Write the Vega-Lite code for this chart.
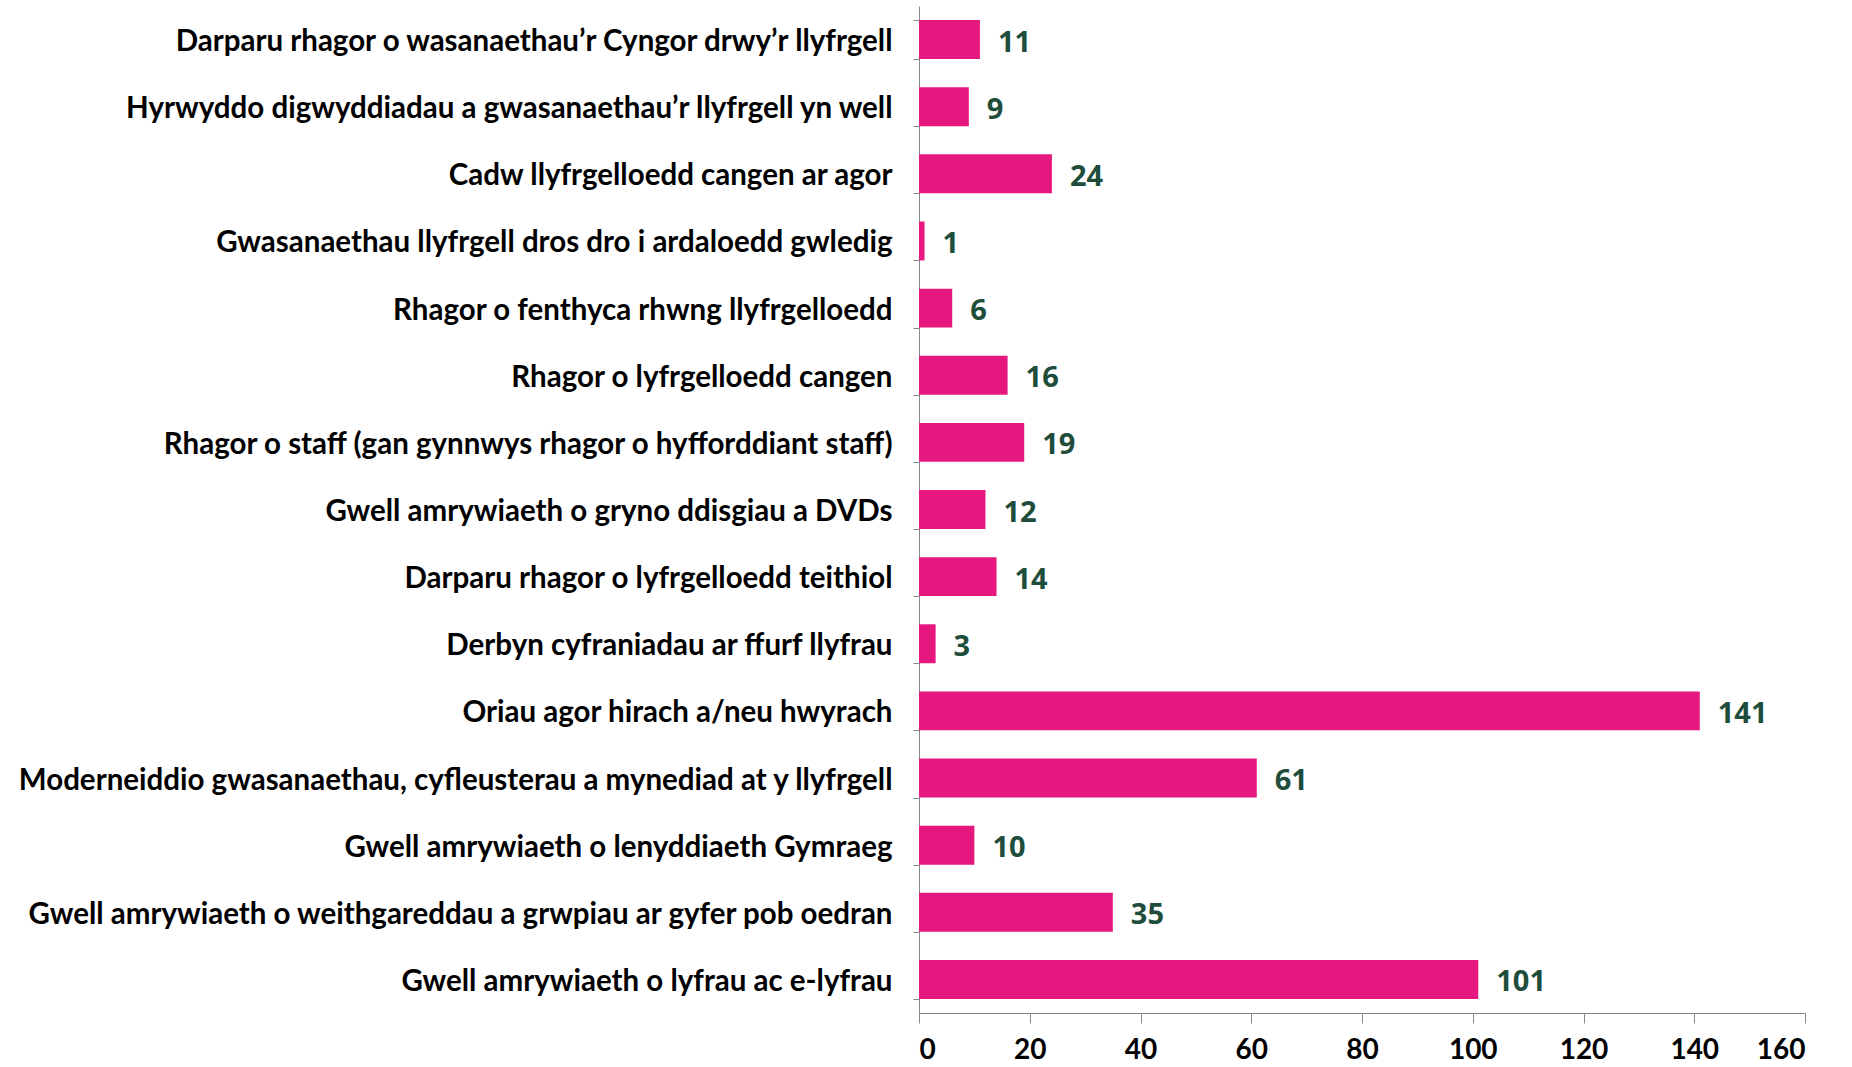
{
  "$schema": "https://vega.github.io/schema/vega-lite/v6.json",
  "autosize": {"type": "none"},
  "padding": {"left": 919, "top": 6, "right": 47, "bottom": 54},
  "width": 886,
  "height": 1007,
  "background": "white",
  "config": {"view": {"stroke": null}},
  "data": {"values": [
    {"label": "Darparu rhagor o wasanaethau’r Cyngor drwy’r llyfrgell", "value": 11},
    {"label": "Hyrwyddo digwyddiadau a gwasanaethau’r llyfrgell yn well\u00a0", "value": 9},
    {"label": "Cadw llyfrgelloedd cangen ar agor\u00a0", "value": 24},
    {"label": "Gwasanaethau llyfrgell dros dro i ardaloedd gwledig\u00a0", "value": 1},
    {"label": "Rhagor o fenthyca rhwng llyfrgelloedd\u00a0", "value": 6},
    {"label": "Rhagor o lyfrgelloedd cangen\u00a0", "value": 16},
    {"label": "Rhagor o staff (gan gynnwys rhagor o hyfforddiant staff)", "value": 19},
    {"label": "Gwell amrywiaeth o gryno ddisgiau a DVDs", "value": 12},
    {"label": "Darparu rhagor o lyfrgelloedd teithiol\u00a0", "value": 14},
    {"label": "Derbyn cyfraniadau ar ffurf llyfrau\u00a0", "value": 3},
    {"label": "Oriau agor hirach a/neu hwyrach\u00a0", "value": 141},
    {"label": "Moderneiddio gwasanaethau, cyfleusterau a mynediad at y llyfrgell", "value": 61},
    {"label": "Gwell amrywiaeth o lenyddiaeth Gymraeg\u00a0", "value": 10},
    {"label": "Gwell amrywiaeth o weithgareddau a grwpiau ar gyfer pob oedran\u00a0", "value": 35},
    {"label": "Gwell amrywiaeth o lyfrau ac e-lyfrau", "value": 101}
  ]},
  "encoding": {
    "y": {
      "field": "label", "type": "nominal", "sort": null, "title": null,
      "scale": {"paddingInner": 0.42, "paddingOuter": 0.21},
      "axis": {
        "tickBand": "extent", "tickSize": 6, "tickColor": "#888888", "domainColor": "#888888",
        "labelPadding": 21, "labelOffset": 2, "labelFont": "Lato", "labelFontWeight": "bold", "labelFontSize": 29.5,
        "labelColor": "#000000", "labelLimit": 1000
      }
    },
    "x": {
      "field": "value", "type": "quantitative", "title": null,
      "scale": {"domain": [0, 160], "nice": false},
      "axis": {
        "values": [0, 20, 40, 60, 80, 100, 120, 140, 160], "grid": false,
        "tickSize": 10, "tickColor": "#888888", "domainColor": "#888888",
        "labelPadding": 13, "labelFont": "Lato", "labelFontWeight": "bold", "labelFontSize": 28,
        "labelColor": "#000000"
      }
    }
  },
  "layer": [
    {"mark": {"type": "bar", "color": "#E6177F"}},
    {"mark": {"type": "text", "align": "left", "dx": 18, "dy": 3, "font": "Open Sans", "fontWeight": "bold", "fontSize": 29, "color": "#1E4D3C"},
     "encoding": {"text": {"field": "value", "type": "quantitative"}}}
  ]
}
